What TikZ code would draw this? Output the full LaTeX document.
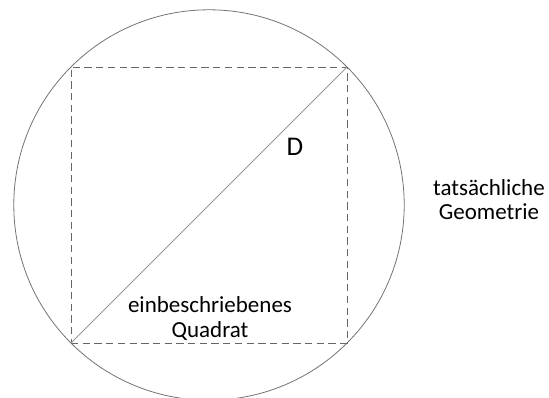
\documentclass[tikz,border=0pt]{standalone}
\usepackage{fontspec}
\setmainfont{Carlito}
\usetikzlibrary{positioning}

\begin{document}
\begin{tikzpicture}[x=1pt,y=-1pt,
    outline/.style={draw=black!55,line width=0.8pt},
    square line/.style={draw=black!60,line width=0.9pt,dash pattern=on 7.3pt off 4.4pt},
    diag line/.style={draw=black!40,line width=0.8pt},
    label text/.style={font=\fontsize{23}{24.5}\selectfont,align=center,inner sep=0pt}]
	\useasboundingbox (0,0) rectangle (549,398);
	% inscribed square corners
	\coordinate (bl) at (71,343);
	\coordinate (br) at (347,343);
	\coordinate (tr) at (347,67);
	\coordinate (tl) at (71,67);
	\coordinate (m) at (209,205);
	\draw[outline] (m) circle (195.2);
	\draw[square line] (bl) -- (br) -- (tr) -- (tl) -- cycle;
	\draw[diag line] (bl) -- (tr);
	\node[label text,font=\fontsize{27}{28}\selectfont] (d) at (295,147) {D};
	\node[label text] (quad) at (210,337) [anchor=base] {einbeschriebenes\\Quadrat};
	\node[label text] (geo) at (489,220) [anchor=base] {tatsächliche\\Geometrie};
\end{tikzpicture}
\end{document}
